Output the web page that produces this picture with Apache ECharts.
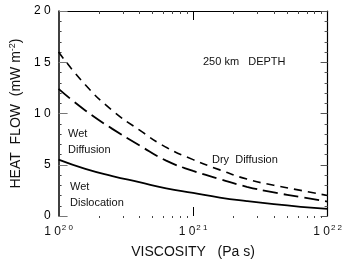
<!DOCTYPE html>
<html>
<head>
<meta charset="utf-8">
<script src="https://cdn.jsdelivr.net/npm/echarts@6/dist/echarts.min.js"></script>
<style>
  html, body { margin: 0; padding: 0; background: #fff; }
  #chart { width: 345px; height: 264px; }
</style>
</head>
<body>
<div id="chart"></div>
<script>
// viscosity (Pa s) sample points along the curves
const viscosity = [1e20, 1.58e20, 2.51e20, 3.98e20, 6.31e20, 1e21, 1.58e21, 2.51e21, 3.98e21, 6.31e21, 1e22];
// heat flow (mW m^-2)
const dryDiffusion = [16.0, 12.8, 10.3, 8.4, 6.7, 5.5, 4.5, 3.6, 3.0, 2.5, 2.0];
const wetDiffusion = [12.4, 10.3, 8.5, 6.9, 5.4, 4.4, 3.6, 2.85, 2.3, 1.85, 1.4];
const wetDislocation = [5.5, 4.6, 3.9, 3.3, 2.7, 2.25, 1.8, 1.45, 1.15, 0.9, 0.7];

const xMajor = [1e20, 1e21, 1e22];
const xMinor = [2e20, 3e20, 4e20, 5e20, 6e20, 7e20, 8e20, 9e20, 2e21, 3e21, 4e21, 5e21, 6e21, 7e21, 8e21, 9e21];
const xExponents = { 1e20: '2 0', 1e21: '2 1', 1e22: '2 2' };
const yTickLabels = { 0: '0', 5: '5', 10: '1 0', 15: '1 5', 20: '2 0' };

const FONT = '"Liberation Sans", Arial, sans-serif';
const chart = echarts.init(document.getElementById('chart'), null, { renderer: 'canvas' });

const pairs = (ys) => viscosity.map((v, i) => [v, ys[i]]);
const logPos = (arr) => arr.map((v) => Math.log10(v));

// tick-only axes: positions in decades, same extent as the log axis
const tickAxis = (position, values, inside, length, color) => ({
  type: 'value', position, min: 20, max: 22,
  splitLine: { show: false }, axisLabel: { show: false },
  axisLine: { show: false },
  axisTick: { show: true, inside, length, customValues: logPos(values), lineStyle: { color, width: 1 } },
});

chart.setOption({
  animation: false,
  grid: { left: 47, right: 13, top: 11, bottom: 44 },
  xAxis: [
    {
      type: 'log', logBase: 10, min: 1e20, max: 1e22, position: 'bottom',
      splitLine: { show: false },
      axisLine: { show: false },
      axisTick: { show: false },
      axisLabel: {
        margin: 8,
        formatter: (v) => '{b|1 0}{s|' + (xExponents[v] || '') + '}',
        rich: {
          b: { fontFamily: FONT, fontSize: 12, color: '#111' },
          s: { fontFamily: FONT, fontSize: 8, color: '#111', verticalAlign: 'top', padding: [0, 0, 7, 1] },
        },
      },
      name: 'VISCOSITY   (Pa s)', nameLocation: 'middle', nameGap: 29,
      nameTextStyle: { fontFamily: FONT, fontSize: 14, color: '#111' },
    },
    tickAxis('bottom', [1e21], true, 9, '#000'),
    tickAxis('bottom', xMinor, false, 2, '#444'),
    Object.assign(tickAxis('top', [1e21], true, 9, '#000'), {
      axisLine: { show: true, lineStyle: { color: '#000', width: 1.2 } },
    }),
    tickAxis('top', xMinor, true, 3, '#444'),
  ],
  yAxis: [
    {
      type: 'value', position: 'left', min: 0, max: 20, interval: 5,
      splitLine: { show: false },
      axisLine: { show: true, lineStyle: { color: '#000', width: 1.5 } },
      axisTick: { show: true, inside: true, length: 9, lineStyle: { color: '#777', width: 1 } },
      minorTick: { show: true, splitNumber: 5, length: 3, lineStyle: { color: '#444', width: 1 } },
      axisLabel: {
        margin: 8, fontFamily: FONT, fontSize: 12, color: '#000',
        formatter: (v) => yTickLabels[v],
      },
      name: 'HEAT  FLOW  (mW m{s|-2})', nameLocation: 'middle', nameGap: 30,
      nameTextStyle: {
        fontFamily: FONT, fontSize: 14, color: '#111',
        rich: { s: { fontFamily: FONT, fontSize: 9, color: '#111', verticalAlign: 'top', padding: [0, 0, 7, 0] } },
      },
    },
    {
      type: 'value', position: 'right', min: 0, max: 20, interval: 5,
      splitLine: { show: false },
      axisLine: { show: true, lineStyle: { color: '#000', width: 1.2 } },
      axisTick: { show: true, inside: true, length: 7, lineStyle: { color: '#555', width: 1 } },
      minorTick: { show: true, splitNumber: 5, length: 3, lineStyle: { color: '#555', width: 1 } },
      axisLabel: { show: false },
    },
  ],
  series: [
    {
      name: 'Dry Diffusion', type: 'line', data: pairs(dryDiffusion), smooth: true, symbol: 'none',
      lineStyle: { color: '#000', width: 1.6, type: [8, 6] },
    },
    {
      name: 'Wet Diffusion', type: 'line', data: pairs(wetDiffusion), smooth: true, symbol: 'none',
      lineStyle: { color: '#000', width: 1.8, type: [15, 6] },
    },
    {
      name: 'Wet Dislocation', type: 'line', data: pairs(wetDislocation), smooth: true, symbol: 'none',
      lineStyle: { color: '#000', width: 1.8 },
    },
  ],
  graphic: [
    { type: 'text', left: 203, top: 56, style: { text: '250 km   DEPTH', fontFamily: FONT, fontSize: 11, fill: '#111' } },
    { type: 'text', left: 212, top: 154, style: { text: 'Dry  Diffusion', fontFamily: FONT, fontSize: 11, fill: '#111' } },
    { type: 'text', left: 68, top: 126, style: { text: 'Wet\nDiffusion', fontFamily: FONT, fontSize: 11, lineHeight: 16, fill: '#111' } },
    { type: 'text', left: 70, top: 179, style: { text: 'Wet\nDislocation', fontFamily: FONT, fontSize: 11, lineHeight: 16, fill: '#111' } },
  ],
});
</script>
</body>
</html>
